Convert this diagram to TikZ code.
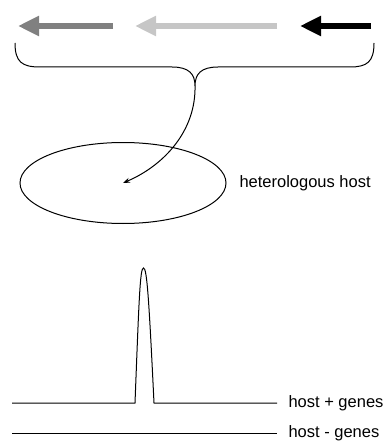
\documentclass[tikz,border=0pt]{standalone}
\usepackage{fontspec}
\setmainfont{Liberation Sans}
\usetikzlibrary{shapes.geometric,arrows.meta,positioning}
\definecolor{genedark}{RGB}{128,128,128}
\definecolor{genelight}{RGB}{198,198,198}

\begin{document}
\begin{tikzpicture}[x=1pt,y=-1pt,line width=1pt,
  gene/.style={line width=6pt,-{Triangle[length=21pt,width=19pt]}},
  lbl/.style={inner sep=0pt,font=\fontsize{16.5}{20}\selectfont}]
\useasboundingbox (0,0) rectangle (384,441);
\draw[gene,genedark](113,26)--(18,26);
\draw[gene,genelight](277,26)--(135,26);
\draw[gene,black](371,26)--(300,26);
\coordinate(braceL)at(15,43);
\coordinate(braceR)at(374,43);
\coordinate(cusp)at(195,86);
\draw(braceL).. controls (15,62) and (22,67) ..(40,67)--(172,67).. controls (189,67) and (195,74) ..(cusp)
  .. controls (195,74) and (201,67) ..(218,67)--(350,67).. controls (367,67) and (374,62) ..(braceR);
\node[ellipse,draw,minimum width=206pt,minimum height=81pt,outer sep=0pt](host)at(123,183){};
\node[lbl,right=13pt of host](hostlabel){heterologous host};
\draw[-{Stealth[length=7pt,width=5pt]}](cusp).. controls (196,130) and (165,165) ..(host.center);
\coordinate(plusstart)at(12,403);
\coordinate(plusend)at(277,403);
\coordinate(minusstart)at(12,433);
\coordinate(minusend)at(277,433);
\draw(plusstart)--(135,403).. controls (139,300) and (140,268) ..(143.5,268)
  .. controls (147,268) and (149,300) ..(154,403)--(plusend);
\draw(minusstart)--(minusend);
\node[lbl,right=11pt of plusend](pluslabel){host + genes};
\node[lbl,right=11pt of minusend](minuslabel){host - genes};
\end{tikzpicture}
\end{document}
